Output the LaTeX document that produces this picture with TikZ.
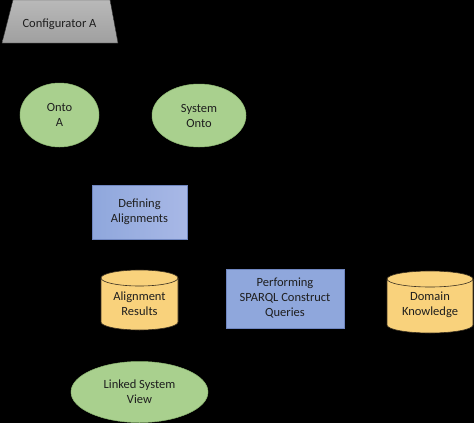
\documentclass[tikz,border=0pt]{standalone}
\usepackage{fontspec}
\setmainfont{Carlito}
\usetikzlibrary{shapes.geometric}
\definecolor{gfill}{HTML}{A9D08E}
\definecolor{gedge}{HTML}{8DB872}
\definecolor{bfill}{HTML}{A8B8E6}
\definecolor{bfill2}{HTML}{8FA7DC}
\definecolor{bedge}{HTML}{6F86C0}
\definecolor{yfill}{HTML}{F9D27C}
\definecolor{yedge}{HTML}{3A3020}
\definecolor{txt}{HTML}{1E1E1E}
\tikzset{
  lbl/.style={text=txt, font=\fontsize{12.5}{15}\selectfont, align=center, inner sep=0pt},
  onto/.style={ellipse, fill=gfill, draw=gedge, line width=0.5pt, inner sep=0pt, lbl},
  procbox/.style={rectangle, draw=bedge, line width=0.5pt, inner sep=0pt, lbl},
  cylbody/.style={fill=yfill, draw=yedge, line width=0.6pt}
}
\begin{document}
\begin{tikzpicture}[x=1pt,y=-1pt]
\useasboundingbox (0,0) rectangle (474,423);
\fill[black] (0,0) rectangle (474,423);
% Configurator A trapezoid
\path[top color=gray!55, bottom color=gray!75, draw=gray!40!black, line width=0.4pt]
  (13,0) -- (110,0) -- (118,43) -- (2,43) -- cycle;
\node[lbl] (conf) at (59.5,24) {Configurator A};
% ellipses
\node[onto, minimum width=79pt, minimum height=64pt] (ontoa) at (59.5,115) {Onto\\A};
\node[onto, minimum width=94pt, minimum height=63pt] (sysonto) at (199,115.5) {System\\Onto};
% rectangles
\node[procbox, left color=bfill2, right color=bfill, minimum width=95pt, minimum height=54pt] (defal) at (139.5,212) {Defining\\Alignments};
\node[procbox, fill=bfill2, minimum width=118pt, minimum height=59pt] (perf) at (285,298.5) {Performing\\SPARQL Construct\\Queries};
% cylinders
\path[cylbody] (101,278) -- (101,322) arc[start angle=180, end angle=360, x radius=38.5pt, y radius=8pt] -- (178,278) arc[start angle=0, end angle=180, x radius=38.5pt, y radius=8pt] -- cycle;
\draw[yedge, line width=0.6pt] (101,278) arc[start angle=180, end angle=360, x radius=38.5pt, y radius=8pt];
\node[lbl] (alres) at (139.5,304) {Alignment\\Results};
\path[cylbody] (387,279) -- (387,325) arc[start angle=180, end angle=360, x radius=43pt, y radius=8pt] -- (473,279) arc[start angle=0, end angle=180, x radius=43pt, y radius=8pt] -- cycle;
\draw[yedge, line width=0.6pt] (387,279) arc[start angle=180, end angle=360, x radius=43pt, y radius=8pt];
\node[lbl] (domk) at (430,305) {Domain\\Knowledge};
% linked system view
\node[onto, minimum width=137pt, minimum height=61pt] (lsv) at (139.5,392) {Linked System\\View};
\end{tikzpicture}
\end{document}
